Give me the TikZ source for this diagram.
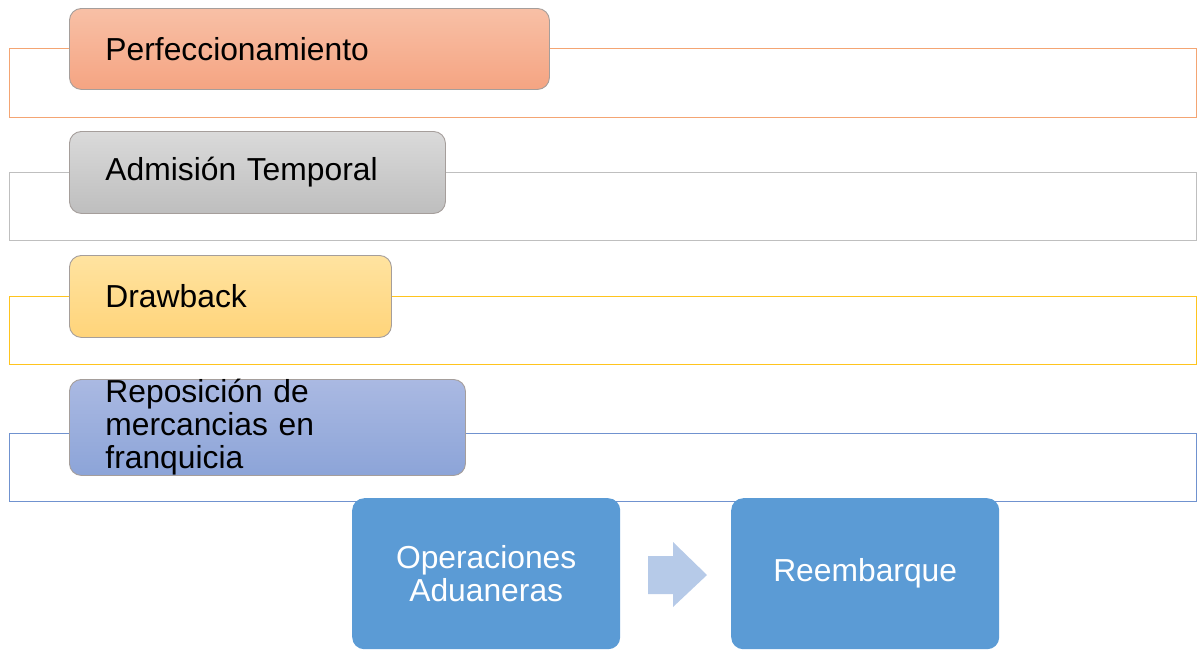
\documentclass[tikz,border=0pt]{standalone}
\usepackage{fontspec}
\setmainfont{Liberation Sans}
\definecolor{cOrange}{RGB}{244,165,115}
\definecolor{cGray}{RGB}{191,191,191}
\definecolor{cYellow}{RGB}{255,196,30}
\definecolor{cBlue}{RGB}{112,146,207}
\definecolor{oTop}{RGB}{248,192,166}
\definecolor{oBot}{RGB}{245,164,130}
\definecolor{gTop}{RGB}{218,218,218}
\definecolor{gBot}{RGB}{190,190,190}
\definecolor{yTop}{RGB}{255,227,160}
\definecolor{yBot}{RGB}{255,212,122}
\definecolor{bTop}{RGB}{170,185,226}
\definecolor{bBot}{RGB}{140,164,216}
\definecolor{stepBlue}{RGB}{91,155,213}
\definecolor{arrBlue}{RGB}{182,202,232}
\definecolor{edgeGray}{RGB}{165,158,155}
\tikzset{
  band/.style={line width=1pt},
  tag/.style={rounded corners=12pt, draw=edgeGray, line width=0.9pt, anchor=north west,
    inner xsep=36pt, inner ysep=0pt, align=left,
    font=\fontsize{31.8}{33}\selectfont, text=black},
  stepbox/.style={rounded corners=12pt, fill=stepBlue, draw=none, anchor=north west,
    minimum width=268pt, minimum height=151pt, inner sep=0pt, align=center,
    font=\fontsize{31.8}{33}\selectfont, text=white},
}
\begin{document}
\begin{tikzpicture}[x=1pt,y=-1pt]
\useasboundingbox (0,0) rectangle (1202,649);
% bands
\draw[band, draw=cOrange] (9,48) rectangle (1196,117);
\draw[band, draw=cGray] (9,172) rectangle (1196,240);
\draw[band, draw=cYellow] (9,296) rectangle (1196,364);
\draw[band, draw=cBlue] (9,433) rectangle (1196,501);
% tags
\node[tag, top color=oTop, bottom color=oBot, minimum height=81pt, text width=408pt] (perf) at (69,8) {Perfeccionamiento};
\node[tag, top color=gTop, bottom color=gBot, minimum height=82pt, text width=304pt] (adm) at (69,131) {Admisión Temporal};
\node[tag, top color=yTop, bottom color=yBot, minimum height=82pt, text width=250pt] (draw) at (69,255) {Drawback};
\node[tag, top color=bTop, bottom color=bBot, minimum height=94pt, text width=324pt] (repo) at (69,379) {Reposición de\\mercancias en\\franquicia};
% bottom steps
\node[stepbox] (oper) at (352,498) {Operaciones\\Aduaneras};
\node[stepbox] (reem) at (731,498) {Reembarque};
% arrow
\fill[arrBlue] (648,556) -- (673,556) -- (673,542) -- (707,575) -- (673,607) -- (673,594) -- (648,594) -- cycle;
\end{tikzpicture}
\end{document}
